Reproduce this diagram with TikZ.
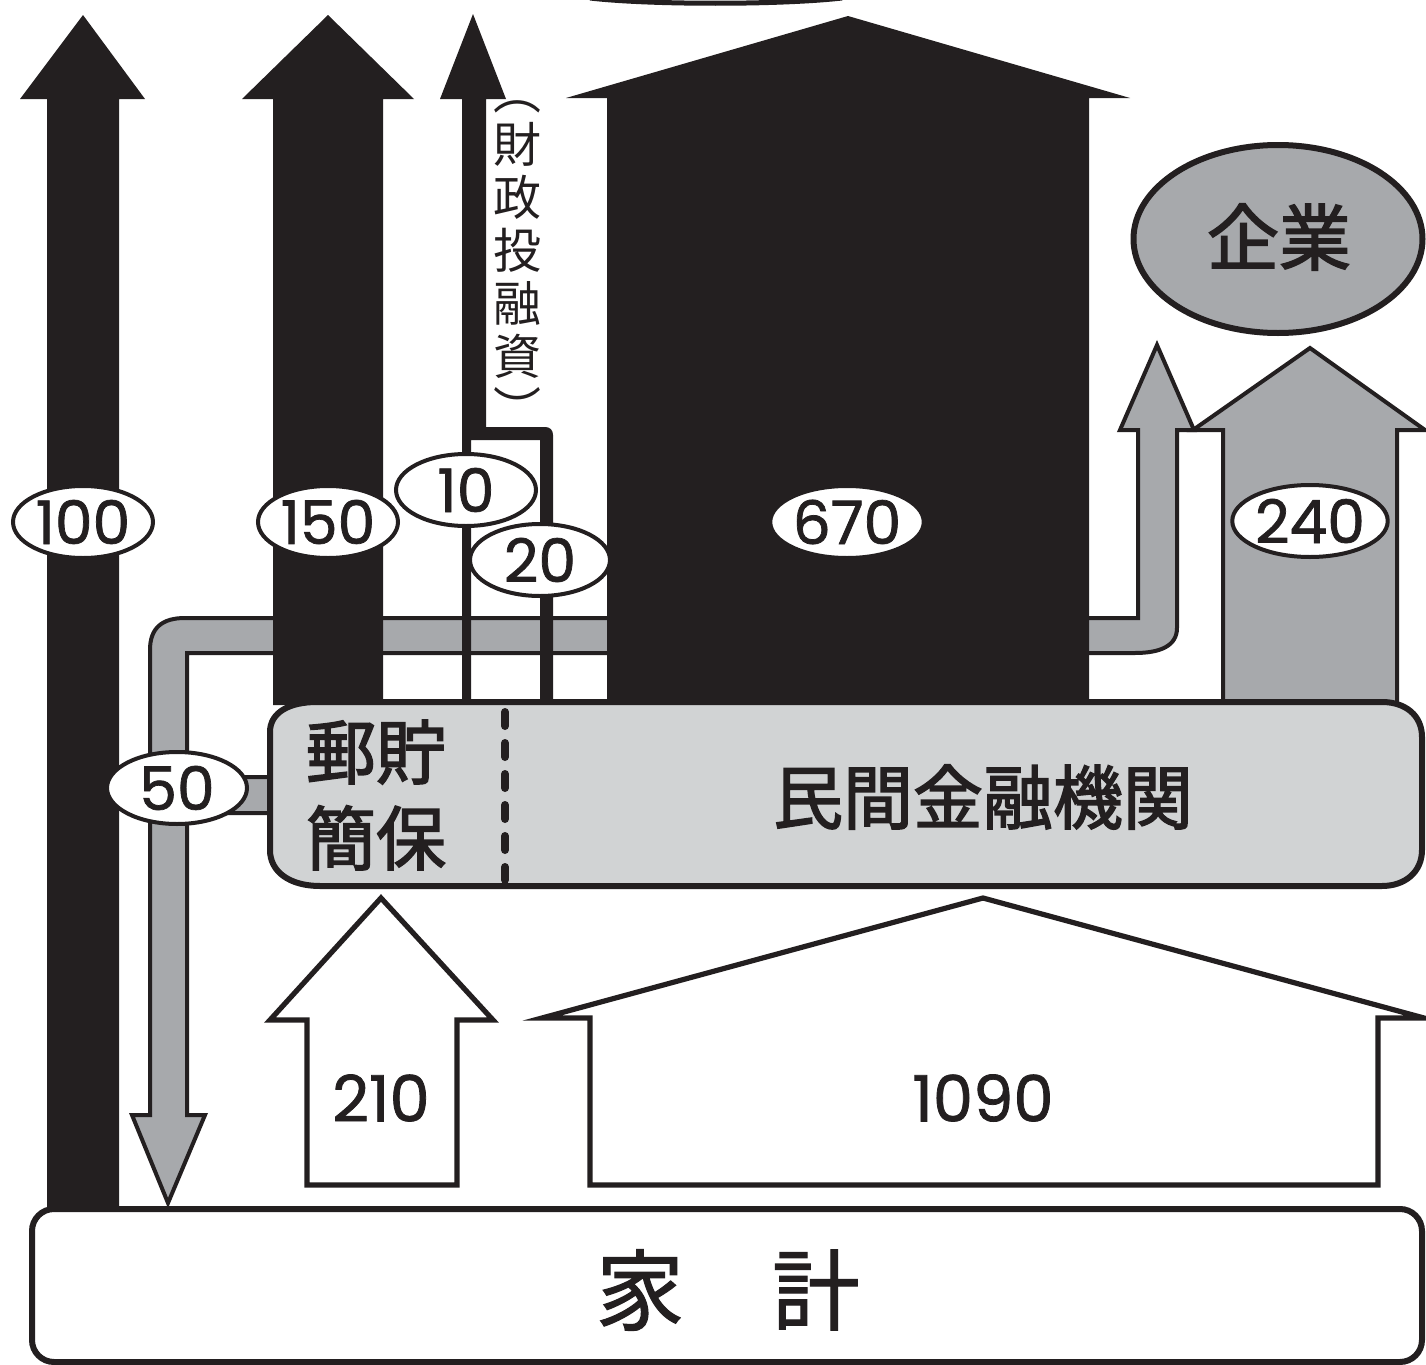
\documentclass[tikz,border=0pt]{standalone}
\usepackage{fontspec}
\newfontfamily\numfont{Poppins}[FakeBold=1.2]
\newfontfamily\jp{Noto Sans CJK JP}
\newfontfamily\jpm{Noto Sans CJK JP}[FakeBold=2.2]
\newfontfamily\jpk{Noto Sans CJK JP}[FakeBold=1.2]
\usetikzlibrary{shapes.geometric}
\definecolor{ink}{HTML}{231F20}
\definecolor{midgray}{HTML}{A7A9AC}
\definecolor{boxgray}{HTML}{D1D3D4}
\begin{document}
\begin{tikzpicture}[x=0.5pt,y=-0.5pt,
  blackarrow/.style={fill=ink,draw=none},
  grayshape/.style={fill=midgray,draw=ink,line width=2pt,line join=miter},
  whitearrow/.style={fill=white,draw=ink,line width=2.6pt,line join=miter},
  numlabel/.style={ellipse,draw=ink,fill=white,line width=2pt,minimum width=70pt,minimum height=36pt,inner sep=0pt,text=ink,font=\numfont\fontsize{30}{30}\selectfont},
  boxtext/.style={text=ink,align=center,inner sep=0pt,font=\jpm\fontsize{35}{43}\selectfont},
  plainnum/.style={text=ink,inner sep=0pt,font=\numfont\fontsize{32}{32}\selectfont}]
\useasboundingbox (0,0) rectangle (1426,1365);

% partial ellipse at the top edge
\draw[ink,line width=2.5pt] (590,-2) .. controls (650,5) and (780,5) .. (842,-2);

% gray pipe (50) with branch to enterprises
\draw[grayshape] (1138,430) -- (1120,430) -- (1157,345) -- (1194,430) -- (1177,430)
  -- (1177,628) .. controls (1177,646) and (1160,653) .. (1135,653)
  -- (187,653) -- (187,777) -- (285,777) -- (285,813) -- (187,813) -- (187,1115)
  -- (205,1115) -- (168,1203) -- (132,1115) -- (150,1115)
  -- (150,650) .. controls (150,628) and (162,618) .. (185,618)
  -- (1138,618) -- cycle;

% gray 240 arrow
\draw[grayshape] (1223,705) -- (1223,430) -- (1193,430) -- (1310,348) -- (1425,430) -- (1397,430) -- (1397,705);

% black arrows
\fill[blackarrow] (47,1215) -- (47,99) -- (20,99) -- (83,15) -- (145,99) -- (119,99) -- (119,1215) -- cycle;
\fill[blackarrow] (273,705) -- (273,99) -- (242,99) -- (328,15) -- (414,99) -- (383,99) -- (383,705) -- cycle;
\fill[blackarrow] (462,705) -- (462,99) -- (440,99) -- (473,14) -- (506,99) -- (486,99) -- (486,427)
  -- (545,427) .. controls (550,427) and (553,430) .. (553,435) -- (553,705) -- (540,705)
  -- (540,440) -- (471,440) -- (471,705) -- cycle;
\fill[blackarrow] (607,705) -- (607,98) -- (566,98) -- (848,16) -- (1130,98) -- (1089,98) -- (1089,705) -- cycle;

% vertical label
\node[text=ink,align=center,inner sep=0pt,font=\jp\fontsize{24}{26.5}\selectfont] (zaito) at (517,264)
  {︵\\財\\政\\投\\融\\資\\︶};

% enterprise
\node[ellipse,draw=ink,fill=midgray,line width=3pt,minimum width=144.5pt,minimum height=94pt,inner sep=0pt] (kigyo) at (1278,239) {};
\node[boxtext,font=\jpm\fontsize{36}{36}\selectfont] (kigyotext) at (1279,237) {企業};

% financial institutions box
\draw[fill=boxgray,draw=ink,line width=3pt] (317,702) -- (1382,702)
  .. controls (1405,702) and (1422,715) .. (1422,737) -- (1422,850)
  .. controls (1422,872) and (1405,886) .. (1382,886) -- (320,886)
  .. controls (290,886) and (270,872) .. (270,850) -- (270,732)
  .. controls (270,712) and (290,702) .. (317,702) -- cycle;
\draw[ink,line width=4pt,line cap=round,dash pattern=on 7pt off 8.5pt] (505,712) -- (505,880);
\node[boxtext] (yucho) at (376,795) {郵貯\\簡保};
\node[boxtext] (minkan) at (983,797) {民間金融機関};

% household flows
\draw[whitearrow] (307,1185) -- (307,1020) -- (270,1020) -- (381,898) -- (493,1020) -- (457,1020) -- (457,1185) -- cycle;
\draw[whitearrow] (590,1185) -- (590,1018) -- (542,1018) -- (983,898) -- (1424,1018) -- (1378,1018) -- (1378,1185) -- cycle;
\node[plainnum] (n210) at (381,1098) {210};
\node[plainnum] (n1090) at (983,1098) {1090};

% household box
\draw[fill=white,draw=ink,line width=3pt,rounded corners=11pt] (32,1209) rectangle (1422,1362);
\node[text=ink,inner sep=0pt,font=\jpk\fontsize{44}{44}\selectfont] (kakei) at (728,1290) {家　計};

% value labels
\node[numlabel] (n100) at (83,522) {100};
\node[numlabel] (n150) at (328,522) {150};
\node[numlabel] (n10) at (466,490) {10};
\node[numlabel] (n20) at (540,560) {20};
\node[numlabel] (n670) at (847,522) {670};
\node[numlabel] (n240) at (1310,521) {240};
\node[numlabel] (n50) at (177,788) {50};
\end{tikzpicture}
\end{document}
